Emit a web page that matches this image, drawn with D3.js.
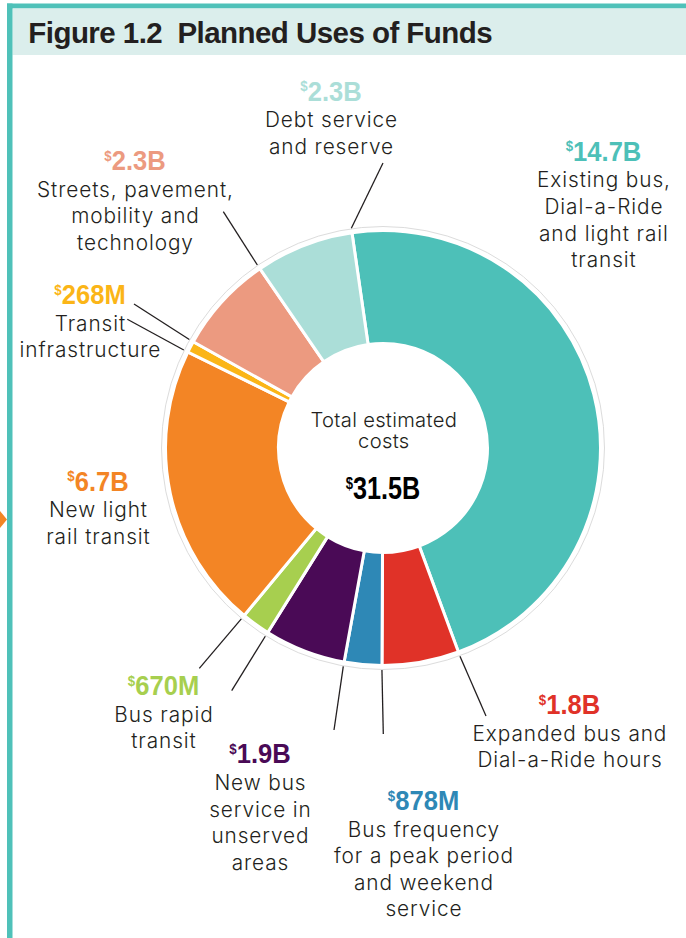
<!DOCTYPE html>
<html><head><meta charset="utf-8">
<script src="https://cdn.jsdelivr.net/npm/d3@7"></script>
<style>
html,body{margin:0;padding:0;background:#fff;}
svg{display:block;}
</style></head><body>
<svg id="chart" width="686" height="938"></svg>
<script>
// ---------------- data ----------------
const title = "Figure 1.2  Planned Uses of Funds";
const categories = [
  "Existing bus,\nDial-a-Ride\nand light rail\ntransit",
  "Expanded bus and\nDial-a-Ride hours",
  "Bus frequency\nfor a peak period\nand weekend\nservice",
  "New bus\nservice in\nunserved\nareas",
  "Bus rapid\ntransit",
  "New light\nrail transit",
  "Transit\ninfrastructure",
  "Streets, pavement,\nmobility and\ntechnology",
  "Debt service\nand reserve"
];
const valuesBillions = [14.7, 1.8, 0.878, 1.9, 0.67, 6.7, 0.268, 2.3, 2.3];
const valueLabels = ["14.7B", "1.8B", "878M", "1.9B", "670M", "6.7B", "268M", "2.3B", "2.3B"];
const centerLines = ["Total estimated", "costs"];
const totalLabel = "31.5B";
const palette = ["#4dc0b8", "#e03228", "#2e88b6", "#4a0a56", "#a7cf4f", "#f38525", "#fbb517", "#ec9a80", "#abded8"];

// ---------------- layout ----------------
const W = 686, H = 938;
const cx = 383, cy = 448, R = 217.5, R0 = 104.5, ringR = 221.5;
const rot = -8.2 * Math.PI / 180;
const labelPos = [
  {x: 603.5, y: 160.7}, {x: 569.5, y: 714}, {x: 423.5, y: 810}, {x: 260, y: 763.3},
  {x: 163.5, y: 695}, {x: 98, y: 490.7}, {x: 90, y: 304}, {x: 135, y: 170}, {x: 331, y: 100.7}
];
const leaders = [
  {i: 1, edge: "start", x: 486, y: 716},
  {i: 2, edge: "start", x: 383.3, y: 734},
  {i: 3, edge: "start", x: 334, y: 730},
  {i: 3, edge: "end", x: 231.7, y: 690.7},
  {i: 4, edge: "end", x: 199.3, y: 668.3},
  {i: 6, edge: "start", x: 127.3, y: 319.3},
  {i: 6, edge: "end", x: 134, y: 304},
  {i: 7, edge: "end", x: 223.3, y: 211.7},
  {i: 8, edge: "end", x: 383, y: 163}
];
const BOLD = "'Liberation Sans',Arial,Helvetica,sans-serif";
const BODY = "Inter,'Open Sans',Roboto,sans-serif";
const INK = "#231f20";

const svg = d3.select("#chart");

// frame
svg.append("rect").attr("x", 7).attr("y", 3.5).attr("width", W - 7).attr("height", 5).attr("fill", "#4fc1b9");
svg.append("rect").attr("x", 12.5).attr("y", 8.5).attr("width", W - 12.5).attr("height", 46.5).attr("fill", "#dbeeec");
svg.append("rect").attr("x", 7).attr("y", 3.5).attr("width", 5.5).attr("height", H).attr("fill", "#4fc1b9");
svg.append("path").attr("d", "M0,511 L7,519.5 L0,528 Z").attr("fill", "#f38525");

svg.append("text").attr("x", 28.3).attr("y", 43.3)
  .attr("font-family", BOLD).attr("font-weight", 700)
  .attr("font-size", 29.5).attr("letter-spacing", -0.55).attr("fill", INK)
  .attr("xml:space", "preserve").style("white-space", "pre").text(title);

// donut
const color = d3.scaleOrdinal().domain(categories).range(palette);
const pie = d3.pie().sort(null).value(d => d.v).startAngle(rot).endAngle(rot + 2 * Math.PI);
const rows = categories.map((c, i) => ({c, v: valuesBillions[i], lab: valueLabels[i], i}));
const arcs = pie(rows);
const arc = d3.arc().innerRadius(R0).outerRadius(R);

const g = svg.append("g").attr("transform", `translate(${cx},${cy})`);
g.append("circle").attr("r", ringR).attr("fill", "none").attr("stroke", "#dcdcdc").attr("stroke-width", 1);
g.selectAll("path.slice").data(arcs).join("path").attr("class", "slice")
  .attr("d", arc).attr("fill", d => color(d.data.c))
  .attr("stroke", "#fff").attr("stroke-width", 3).attr("stroke-linejoin", "miter");

// leaders
const pt = (a, r) => [cx + r * Math.sin(a), cy - r * Math.cos(a)];
svg.selectAll("line.leader").data(leaders).join("line").attr("class", "leader")
  .each(function(d) {
    const a = d.edge === "start" ? arcs[d.i].startAngle : arcs[d.i].endAngle;
    const p = pt(a, ringR + 0.5);
    d3.select(this).attr("x1", d.x).attr("y1", d.y).attr("x2", p[0]).attr("y2", p[1]);
  })
  .attr("stroke", INK).attr("stroke-width", 1.3);

// value label helper
function valueText(sel, x, y, str, fill, size, sx) {
  const t = sel.append("text").attr("transform", `translate(${x},${y}) scale(${sx},1)`)
    .attr("text-anchor", "middle").attr("fill", fill)
    .attr("font-family", BOLD).attr("font-weight", 700).attr("font-size", size);
  t.append("tspan").attr("font-size", size * 0.52).attr("dy", -size * 0.34).text("$");
  t.append("tspan").attr("dy", size * 0.34).text(str);
  return t;
}

const labels = svg.append("g");
arcs.forEach((d, i) => {
  const p = labelPos[i];
  valueText(labels, p.x, p.y, d.data.lab, color(d.data.c), 27.5, 0.93);
  const lines = d.data.c.split("\n");
  const t = labels.append("text").attr("text-anchor", "middle").attr("fill", INK)
    .attr("font-family", BODY).attr("font-weight", 300).attr("font-size", 20.8)
    .attr("letter-spacing", 0.9);
  lines.forEach((ln, k) => t.append("tspan").attr("x", p.x + 0.45).attr("y", p.y + 26.6 * (k + 1)).text(ln));
});

// center
const ct = svg.append("text").attr("text-anchor", "middle").attr("fill", INK)
  .attr("font-family", BODY).attr("font-weight", 300).attr("font-size", 20.2)
  .attr("letter-spacing", 0.3);
centerLines.forEach((ln, k) => ct.append("tspan").attr("x", cx + 0.8).attr("y", 426.7 + 21.6 * k).text(ln));
valueText(svg, cx, 499.3, totalLabel, "#000", 31.5, 0.8);
</script>
</body></html>
